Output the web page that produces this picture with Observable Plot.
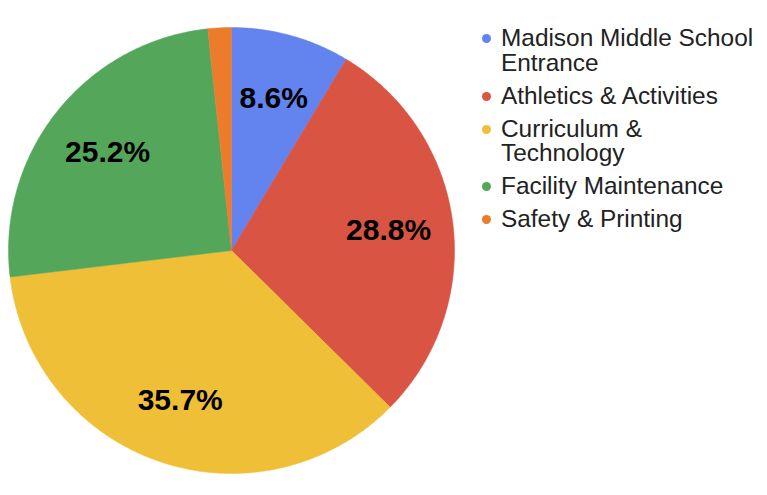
<!DOCTYPE html>
<html>
<head>
<meta charset="utf-8">
<script src="https://cdn.jsdelivr.net/npm/d3@7"></script>
<script src="https://cdn.jsdelivr.net/npm/@observablehq/plot@0.6"></script>
<style>
  html, body { margin: 0; padding: 0; background: #fff; }
  #wrap { position: relative; width: 767px; height: 495px; overflow: hidden; font-family: "Liberation Sans", Arial, sans-serif; }
  #legend { position: absolute; left: 482px; top: 26px; width: 285px; }
  .item { display: flex; align-items: flex-start; margin-bottom: 8.5px; }
  .dot { flex: none; width: 9px; height: 9px; border-radius: 50%; margin-top: 8px; margin-right: 10px; }
  .lbl { font-size: 24.4px; line-height: 24.5px; color: #222; width: 264px; }
</style>
</head>
<body>
<div id="wrap"></div>
<script>
const categories = ["Madison Middle School Entrance", "Athletics & Activities", "Curriculum & Technology", "Facility Maintenance", "Safety & Printing"];
const values = [8.6, 28.8, 35.7, 25.2, 1.7];
const colors = ["#6384EE", "#D95442", "#EFBF38", "#54A75A", "#EC7B2C"];

const W = 767, H = 495, R = 223, CX = 231, CY = 250;

const pie = d3.pie().sort(null).value(d => d.value)(categories.map((c, i) => ({category: c, value: values[i]})));

// slice outlines in unit-radius coordinates (angle clockwise from top)
const outline = [];
for (const a of pie) {
  const n = Math.max(4, Math.ceil((a.endAngle - a.startAngle) / 0.01));
  outline.push({category: a.data.category, x: 0, y: 0});
  for (let k = 0; k <= n; k++) {
    const t = a.startAngle + (a.endAngle - a.startAngle) * k / n;
    outline.push({category: a.data.category, x: Math.sin(t), y: Math.cos(t)});
  }
  outline.push({category: a.data.category, x: 0, y: 0});
}

const labels = pie.filter(a => a.data.value >= 5).map(a => {
  const m = (a.startAngle + a.endAngle) / 2;
  return {x: 0.71 * Math.sin(m), y: 0.71 * Math.cos(m), text: a.data.value.toFixed(1) + "%"};
});

const chart = Plot.plot({
  width: W, height: H, margin: 0,
  style: {fontFamily: '"Liberation Sans", Arial, sans-serif', background: "transparent"},
  x: {domain: [-CX / R, (W - CX) / R], axis: null},
  y: {domain: [-(H - CY) / R, CY / R], axis: null},
  color: {domain: categories, range: colors},
  marks: [
    Plot.line(outline, {x: "x", y: "y", z: "category", fill: "category", stroke: "category", strokeWidth: 0.5, curve: "linear"}),
    Plot.text(labels, {x: "x", y: "y", text: "text", fontSize: 30, fontWeight: "bold", fill: "#000"})
  ]
});

const wrap = document.getElementById("wrap");
wrap.appendChild(chart);

const legend = document.createElement("div");
legend.id = "legend";
categories.forEach((c, i) => {
  const it = document.createElement("div");
  it.className = "item";
  const d = document.createElement("span");
  d.className = "dot";
  d.style.background = colors[i];
  const l = document.createElement("span");
  l.className = "lbl";
  l.textContent = c;
  it.appendChild(d); it.appendChild(l);
  legend.appendChild(it);
});
wrap.appendChild(legend);
</script>
</body>
</html>
